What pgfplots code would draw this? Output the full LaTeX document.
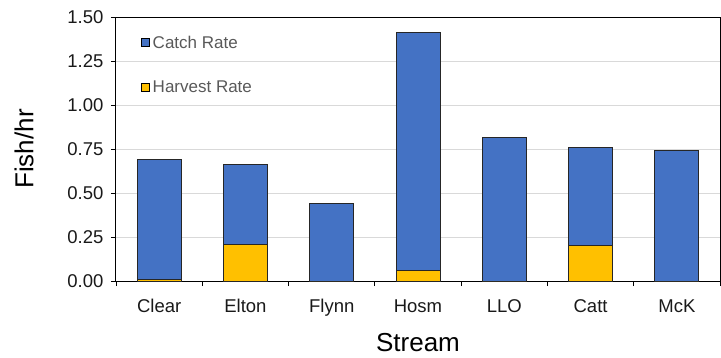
\documentclass[border=0pt]{standalone}
\usepackage{pgfplots}
\pgfplotsset{compat=1.18}
\usepackage{fontspec}
\setmainfont{Liberation Sans}
\definecolor{catch}{RGB}{68,114,196}
\definecolor{harv}{RGB}{255,192,0}
\definecolor{gridc}{RGB}{217,217,217}
\definecolor{legt}{RGB}{89,89,89}
\begin{document}
\begin{tikzpicture}[x=1pt,y=1pt]
\path[use as bounding box] (0,0) rectangle (721,357);
\begin{axis}[
  at={(116pt,76pt)}, anchor=south west,
  scale only axis, width=604pt, height=264pt,
  xmin=-0.5, xmax=6.5, ymin=0, ymax=1.5,
  ytick={0,0.25,...,1.5},
  yticklabel style={xshift=-4pt, /pgf/number format/fixed, /pgf/number format/fixed zerofill, /pgf/number format/precision=2},
  /pgf/number format/assume math mode=true,
  xtick={0,...,6},
  xticklabels={Clear,Elton,Flynn,Hosm,LLO,Catt,McK},
  minor xtick={-0.5,0.5,...,6.5},
  xtick pos=bottom, ytick pos=left,
  tick align=outside,
  major x tick style={draw=none},
  minor tick length=5pt, major tick length=5pt,
  tick style={black, line width=0.8pt},
  ymajorgrids, grid style={gridc, line width=1pt},
  axis line style={black, line width=1pt},
  tick label style={font=\fontsize{18.5}{22}\selectfont, text=black!90},
  xticklabel style={yshift=-10pt},
  xlabel={Stream}, ylabel={Fish/hr},
  label style={font=\fontsize{26}{30}\selectfont},
  xlabel style={at={(axis description cs:0.5,-0.235)}, anchor=center},
  ylabel style={at={(axis description cs:-0.152,0.5)}, anchor=center},
  ybar=0pt, bar width=44pt, bar shift=0pt,
  legend style={at={(0.036,0.945)}, anchor=north west, draw=none, fill=none,
    font=\fontsize{17}{20}\selectfont, text=legt, row sep=27pt,
    /tikz/every odd column/.style={column sep=1pt}},
  legend cell align=left,
  legend image code/.code={\draw[#1, draw=black, line width=0.8pt] (0pt,-4pt) rectangle (8pt,4pt);},
]
\addplot[fill=catch, draw=black!85, line width=1pt] coordinates {(0,0.693) (1,0.661) (2,0.441) (3,1.413) (4,0.818) (5,0.759) (6,0.740)};
\addlegendentry{Catch Rate}
\addplot[fill=harv, draw=black!85, line width=1pt] coordinates {(0,0.006) (1,0.210) (2,0) (3,0.061) (4,0) (5,0.200) (6,0)};
\addlegendentry{Harvest Rate}
\end{axis}
\end{tikzpicture}
\end{document}
